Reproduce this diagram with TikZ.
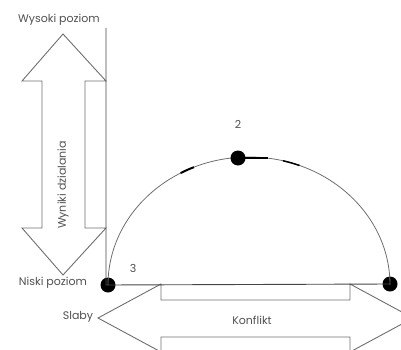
\documentclass[tikz,border=0pt]{standalone}
\usepackage{fontspec}
\setmainfont{Poppins}
\usetikzlibrary{positioning}
\definecolor{linegrey}{RGB}{110,110,110}
\definecolor{axisgrey}{RGB}{70,70,70}
\definecolor{textgrey}{RGB}{80,80,80}

\begin{document}
\begin{tikzpicture}[x=1pt, y=1pt,
    lbl/.style={font=\fontsize{11}{13}\selectfont, text=textgrey, inner sep=0pt},
    bigarrow/.style={draw=linegrey, line width=0.9pt, line join=miter},
    axis/.style={draw=axisgrey, line width=0.9pt},
    curve/.style={draw=linegrey, line width=0.8pt},
    dot/.style={circle, fill=black, minimum size=15pt, inner sep=0pt}
]
    \useasboundingbox (0,0) rectangle (401,349);
    \clip (0,0) rectangle (401,349);

    % vertical double arrow
    \draw[bigarrow] (63,315) -- (106,268) -- (85,268) -- (85,121) -- (106,121)
        -- (63,74) -- (22,121) -- (42,121) -- (42,268) -- (22,268) -- cycle;
    \node[lbl, rotate=90] (result) at (63,164) {Wyniki dzialania};

    % horizontal double arrow
    \draw[bigarrow] (98,31) -- (161,65) -- (161,49) -- (350,49) -- (350,65)
        -- (413,31) -- (350,-3) -- (350,12) -- (161,12) -- (161,-3) -- cycle;
    \node[lbl] (conflict) at (252,29) {Konflikt};

    % axes
    \coordinate (top) at (106,321);
    \node[dot] (low) at (108,64) {};
    \node[dot] (right) at (390,65) {};
    \draw[axis] (top) -- (106,64) -- (right.center);

    % curve
    \draw[curve] (low.center) arc[start angle=180, end angle=0, x radius=141pt, y radius=128pt];
    \node[dot] (peak) at (238,191) {};
    \draw[line width=2pt] (peak.center) -- ++(30,0);
    \draw[line width=2pt] (249,64) ++(119:141pt and 128pt) arc[start angle=119, end angle=113, x radius=141pt, y radius=128pt];
    \draw[line width=1.5pt] (249,64) ++(76:141pt and 128pt) arc[start angle=76, end angle=69, x radius=141pt, y radius=128pt];

    % labels
    \node[lbl] (high) at (59,329) {Wysoki poziom};
    \node[lbl] (lowlbl) at (53,66) {Niski poziom};
    \node[lbl] (weak) at (78,32) {Slaby};
    \node[lbl, above=22pt of peak] (two) {2};
    \node[lbl] (three) at (133,81) {3};
\end{tikzpicture}
\end{document}
